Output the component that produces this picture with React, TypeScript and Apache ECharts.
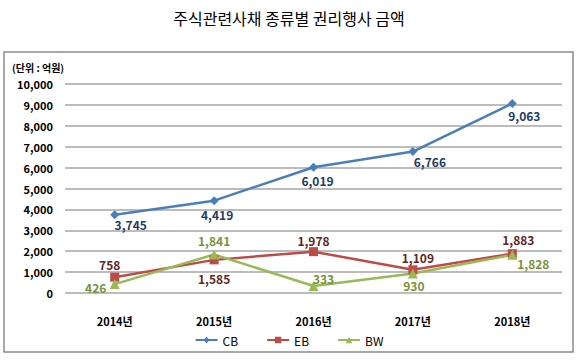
import React, { useEffect, useRef } from "react";
import * as echarts from "echarts";

const categories = ["2014년", "2015년", "2016년", "2017년", "2018년"];
const cbValues = [3745, 4419, 6019, 6766, 9063];
const ebValues = [758, 1585, 1978, 1109, 1883];
const bwValues = [426, 1841, 333, 930, 1828];

const cbOffsets = [[16, 10], [3, 14], [4, 13], [17, 10], [12, 12]];
const ebOffsets = [[-5, -13], [0, 19], [0, -11], [5, -12], [6, -14]];
const bwOffsets = [[-19, 3], [0, -14], [10, -8], [1, 12], [21, 9]];

const FONT = "'Noto Sans CJK KR', 'Noto Sans', sans-serif";

function fmt(v: number) {
  return v.toLocaleString("en-US");
}

function mkData(values: number[], offsets: number[][], color: string) {
  return values.map((v, i) => ({
    value: v,
    label: {
      show: true,
      position: "inside" as const,
      offset: offsets[i],
      formatter: fmt(v),
      color,
      fontFamily: FONT,
      fontWeight: "bold" as const,
      fontSize: 12,
    },
  }));
}

export default function App() {
  const ref = useRef<HTMLDivElement>(null);
  useEffect(() => {
    document.body.style.margin = "0";
    const chart = echarts.init(ref.current!, null, { renderer: "svg" });
    chart.setOption({
      animation: false,
      backgroundColor: "#fff",
      title: {
        text: "주식관련사채 종류별 권리행사 금액",
        left: "center",
        top: 5,
        textStyle: { fontFamily: FONT, fontSize: 16, fontWeight: "normal", color: "#000" },
      },
      graphic: [
        {
          type: "rect",
          shape: { x: 4, y: 52, width: 569, height: 300 },
          style: { fill: "none", stroke: "#8c8c8c", lineWidth: 1.5 },
          silent: true,
        },
        {
          type: "text",
          left: 12,
          top: 62,
          style: { text: "(단위 : 억원)", fontFamily: FONT, fontSize: 10, fontWeight: "bold", fill: "#000" },
        },
      ],
      legend: {
        bottom: 10,
        left: "center",
        itemWidth: 22,
        itemHeight: 8,
        itemGap: 28,
        textStyle: { fontFamily: FONT, fontSize: 12, color: "#000" },
        data: ["CB", "EB", "BW"],
      },
      grid: { left: 65, right: 16, top: 84, bottom: 68 },
      xAxis: {
        type: "category",
        data: categories,
        boundaryGap: true,
        axisLine: { show: false },
        axisTick: { show: false },
        axisLabel: { fontFamily: FONT, fontSize: 11, fontWeight: "bold", color: "#000", margin: 22 },
      },
      yAxis: {
        type: "value",
        min: 0,
        max: 10000,
        interval: 1000,
        axisLine: { show: false },
        axisTick: { show: false },
        axisLabel: {
          fontFamily: FONT,
          fontSize: 11,
          fontWeight: "bold",
          color: "#000",
          margin: 12,
          formatter: (v: number) => fmt(v),
        },
        splitLine: { lineStyle: { color: "#a6a6a6", width: 1.5 } },
      },
      series: [
        {
          name: "CB",
          type: "line",
          data: mkData(cbValues, cbOffsets, "#1f3b66"),
          symbol: "diamond",
          symbolSize: 9,
          itemStyle: { color: "#4a7ebb" },
          lineStyle: { color: "#4a7ebb", width: 2.5 },
        },
        {
          name: "EB",
          type: "line",
          data: mkData(ebValues, ebOffsets, "#632523"),
          symbol: "rect",
          symbolSize: 9,
          itemStyle: { color: "#be4b48" },
          lineStyle: { color: "#be4b48", width: 2.5 },
        },
        {
          name: "BW",
          type: "line",
          data: mkData(bwValues, bwOffsets, "#77933c"),
          symbol: "triangle",
          symbolSize: 10,
          itemStyle: { color: "#98b954" },
          lineStyle: { color: "#98b954", width: 2.5 },
        },
      ],
    });
    return () => chart.dispose();
  }, []);
  return <div ref={ref} style={{ width: 578, height: 361 }} />;
}
